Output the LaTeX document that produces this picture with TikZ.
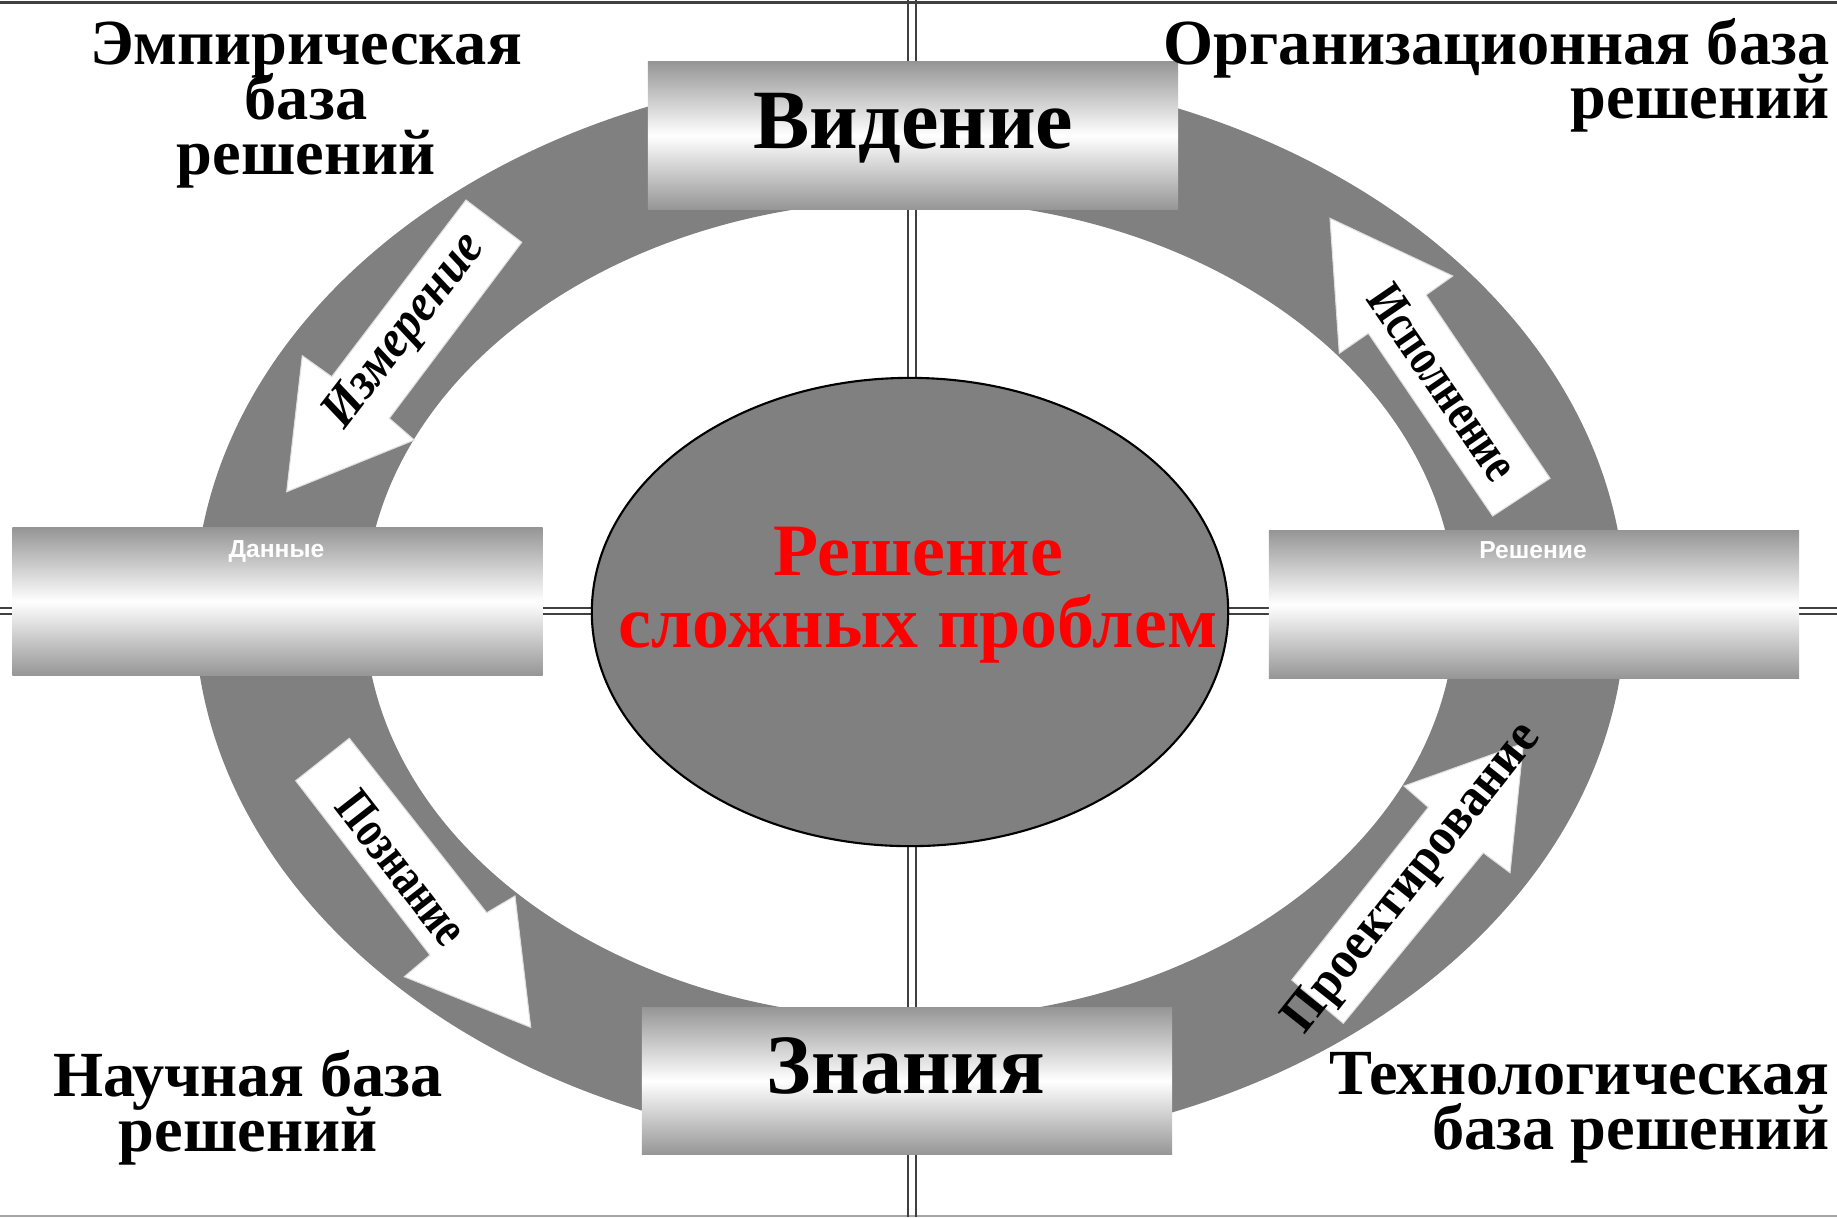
\documentclass[tikz,border=0pt]{standalone}
\usepackage{fontspec}
\setmainfont{Liberation Serif}
\newfontfamily\capfont{Liberation Sans}
\usepackage{tikz}
\usetikzlibrary{positioning, calc, shapes.geometric}
\definecolor{ringgray}{RGB}{128,128,128}
\definecolor{boxgray}{RGB}{150,150,150}
\definecolor{framegray}{RGB}{64,64,64}
\definecolor{tred}{RGB}{255,0,0}
\newcommand{\tightlines}{\setlength{\lineskiplimit}{-20pt}}

\begin{document}
\begin{tikzpicture}[x=0.01cm, y=-0.01cm,
    stagebox/.style={rectangle, inner sep=0pt, minimum width=5.3cm, minimum height=1.47cm,
      top color=boxgray, bottom color=boxgray, middle color=white},
    blockarrow/.style={fill=white, draw=gray!25, line width=0.3pt},
    arrowtext/.style={font=\fontsize{15}{17}\selectfont\bfseries, inner sep=0pt},
    cornertext/.style={font=\tightlines\fontsize{18.3}{15.5}\selectfont\bfseries, inner sep=0pt},
    bigtext/.style={font=\fontsize{24}{28}\selectfont\bfseries, inner sep=0pt},
    smalltext/.style={font=\capfont\fontsize{7}{8}\selectfont\bfseries, text=white, inner sep=0pt}]

  \useasboundingbox (0,0) rectangle (1837,1217);

  % Frame lines
  \draw[framegray, line width=0.85pt] (0,2) -- (1837,2);
  \draw[gray!70, line width=0.5pt] (0,1216) -- (1837,1216);
  \draw[framegray, line width=0.45pt] (908,0) -- (908,1217) (916,0) -- (916,1217);
  \draw[framegray, line width=0.45pt] (0,608) -- (1837,608) (0,614) -- (1837,614);

  % Ring
  \fill[ringgray, even odd rule] (910,609.5) ellipse [x radius=7.15cm, y radius=5.4cm]
    (910,609.5) ellipse [x radius=5.45cm, y radius=4.09cm];

  % Block arrows
  \filldraw[blockarrow] (466,200) -- (521.7,242.3) -- (389.3,418.3) -- (414.3,440)
    -- (286.7,491.7) -- (302.3,355.7) -- (331.7,376.7) -- cycle;
  \filldraw[blockarrow] (1330,218.3) -- (1452.7,276) -- (1426,295) -- (1550,478.3)
    -- (1492.7,516) -- (1368.3,333.3) -- (1339.3,353.3) -- cycle;
  \filldraw[blockarrow] (349.3,738.3) -- (486.7,912.7) -- (515,896) -- (530.7,1027.3)
    -- (404.3,976.7) -- (430,955) -- (295.7,780.7) -- cycle;
  \filldraw[blockarrow] (1291.7,980) -- (1428.3,807.3) -- (1404,786) -- (1523.3,743.3)
    -- (1510,872.7) -- (1483.3,852.7) -- (1343.3,1023.3) -- cycle;

  \node[arrowtext, rotate=52.5, xscale=0.92] (measure) at (406,332) {\itshape Измерение};
  \node[arrowtext, rotate=-55.5, xscale=0.78] (execution) at (1443,382) {Исполнение};
  \node[arrowtext, rotate=-52.1, xscale=0.78] (cognition) at (402,868) {Познание};
  \node[arrowtext, rotate=51.5, xscale=0.95] (design) at (1414,879) {Проектирование};

  % Stage boxes
  \node[stagebox] (vision) at (913,135.5) {};
  \node[stagebox] (knowledge) at (907,1081) {};
  \node[stagebox] (data) at (277.5,601.5) {};
  \node[stagebox] (decision) at (1534,604.5) {};

  \node[bigtext, anchor=base] (visiontxt) at (913.5,148) {Видение};
  \node[bigtext, anchor=base] (knowtxt) at (906,1093) {Знания};
  \node[smalltext, anchor=base] (datatxt) at (276.5,557) {Данные};
  \node[smalltext, anchor=base] (decisiontxt) at (1533,558) {Решение};

  % Core problem
  \node[ellipse, draw=black, line width=0.6pt, fill=ringgray, inner sep=0pt,
    minimum width=6.36cm, minimum height=4.68cm] (core) at (910,612) {};
  \node[bigtext, font=\tightlines\fontsize{21}{20.2}\selectfont\bfseries, text=tred,
    align=center, anchor=base] (coretxt) at (918,647) {Решение\\сложных проблем};

  % Corner labels (anchored on the last line)
  \node[cornertext, align=center, anchor=base] (empirical) at (306,174) {Эмпирическая\\база\\решений};
  \node[cornertext, align=right, anchor=base east] (organization) at (1830,118.6) {Организационная база\\решений};
  \node[cornertext, align=center, anchor=base] (science) at (248,1151) {Научная база\\решений};
  \node[cornertext, align=right, anchor=base east] (technology) at (1830,1149) {Технологическая\\база решений};
\end{tikzpicture}
\end{document}
